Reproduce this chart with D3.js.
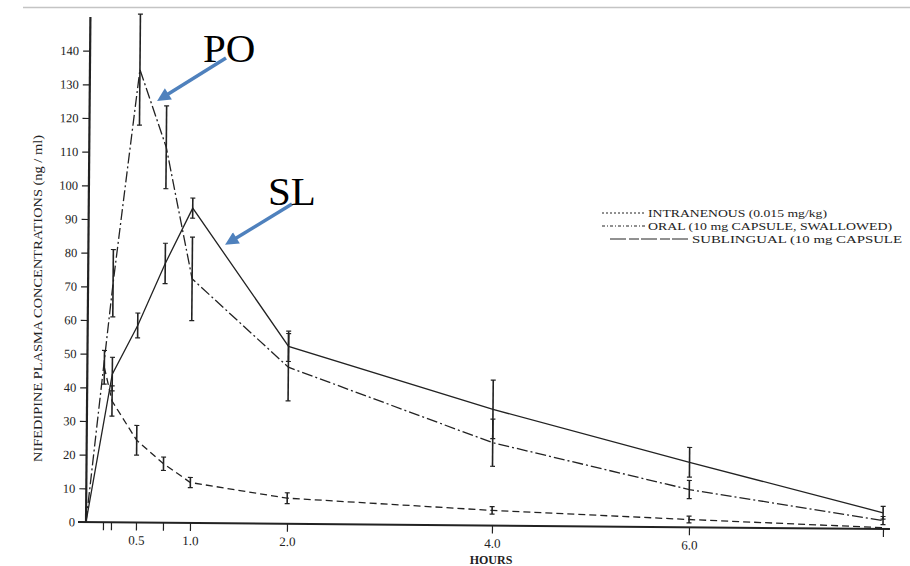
<!DOCTYPE html>
<html>
<head>
<meta charset="utf-8">
<script src="https://cdn.jsdelivr.net/npm/d3@7"></script>
<style>
  body { margin: 0; background: #fff; }
  svg { display: block; font-family: "Liberation Serif", "Times New Roman", serif; }
</style>
</head>
<body>
<svg id="chart" width="910" height="566"></svg>
<script>
// sampling times (hours)
const hours = [0, 0.25, 0.5, 0.75, 1, 2, 4, 6, 8];
const ivHours = [0.17, 0.25, 0.5, 0.75, 1, 2, 4, 6, 8];

// nifedipine plasma concentrations (ng/ml), mean and error bar half-height
const ivMean = [46, 36, 24.4, 17.5, 12, 7.6, 4.5, 2.3, 0.4];
const ivErr  = [5, 4.5, 4.4, 2, 1.5, 1.6, 1.1, 1, 0];
const poMean = [0, 71, 134.5, 111.5, 72.5, 46.5, 24.6, 11.2, 2.5];
const poErr  = [0, 10, 16.5, 12.3, 12.4, 10, 7, 2.7, 1.2];
const slMean = [0, 44, 58.5, 77, 93.5, 52.7, 34.5, 19.3, 4.8];
const slErr  = [0, 5, 3.7, 6, 3, 4.5, 8.7, 4.4, 1.9];

const yTicks = [0, 10, 20, 30, 40, 50, 60, 70, 80, 90, 100, 110, 120, 130, 140];
const xTicks = [0.17, 0.25, 0.5, 0.75, 1, 2, 4, 6, 8];
const xTickLabels = ["", "", "0.5", "", "1.0", "2.0", "4.0", "6.0", ""];

const legendLabels = [
  "INTRANENOUS (0.015 mg/kg)",
  "ORAL (10 mg CAPSULE, SWALLOWED)",
  "SUBLINGUAL (10 mg CAPSULE"
];
const arrowLabels = ["PO", "SL"];

const ink = "#222";
const arrowBlue = "#4f81bd";

const svg = d3.select("#chart");

// scanned figure: hand-drawn hour axis is slightly uneven
const x = d3.scaleLinear()
  .domain([0, 0.5, 1, 2, 4, 6, 8])
  .range([86, 136, 190, 287, 492, 689, 883]);
const y = d3.scaleLinear().domain([0, 150]).range([522, 17]);

// thin grey rule at the top of the slide
svg.append("line")
  .attr("x1", 23).attr("x2", 910).attr("y1", 7.5).attr("y2", 7.5)
  .attr("stroke", "#c4c4c4").attr("stroke-width", 1.5);

// the page is scanned a bit crooked
const g = svg.append("g").attr("transform", `rotate(0.5, ${x(0)}, ${y(0)})`);

// axes
const yAxis = d3.axisLeft(y).tickValues(yTicks).tickSize(7).tickPadding(4).tickSizeOuter(0);
const yg = g.append("g").attr("transform", `translate(${x(0)},0)`).call(yAxis);
yg.select(".domain").remove();
yg.selectAll(".tick line").attr("stroke", ink).attr("stroke-width", 1.2);
yg.selectAll(".tick text").attr("fill", ink).attr("font-size", 12.5)
  .attr("font-family", "Liberation Serif, serif");

const xAxis = d3.axisBottom(x).tickValues(xTicks).tickSize(8).tickPadding(5)
  .tickSizeOuter(0).tickFormat((d, i) => xTickLabels[i]);
const xg = g.append("g").attr("transform", `translate(0,${y(0)})`).call(xAxis);
xg.select(".domain").remove();
xg.selectAll(".tick line").attr("stroke", ink).attr("stroke-width", 1.2);
xg.selectAll(".tick text").attr("fill", ink).attr("font-size", 13)
  .attr("font-family", "Liberation Serif, serif");

g.append("line")
  .attr("x1", x(0)).attr("x2", x(0)).attr("y1", y(0) + 1).attr("y2", y(150))
  .attr("stroke", ink).attr("stroke-width", 2.2);
g.append("line")
  .attr("x1", x(0) - 8).attr("x2", x(8) + 7).attr("y1", y(0)).attr("y2", y(0))
  .attr("stroke", ink).attr("stroke-width", 2);

// series
const series = [
  { t: ivHours, v: ivMean, e: ivErr, dash: "7,4" },
  { t: hours, v: poMean, e: poErr, dash: "11,3,2,3" },
  { t: hours, v: slMean, e: slErr, dash: null }
];

const line = d3.line().x(d => x(d.t)).y(d => y(d.v));

series.forEach(s => {
  const pts = s.t.map((t, i) => ({ t: t, v: s.v[i], e: s.e[i] }));
  g.append("path")
    .datum(pts)
    .attr("d", line)
    .attr("fill", "none")
    .attr("stroke", ink)
    .attr("stroke-width", 1.3)
    .attr("stroke-dasharray", s.dash);

  const bars = g.append("g").selectAll("g")
    .data(pts.filter(d => d.e > 0))
    .join("g");
  bars.append("line")
    .attr("x1", d => x(d.t)).attr("x2", d => x(d.t))
    .attr("y1", d => y(d.v - d.e)).attr("y2", d => y(d.v + d.e))
    .attr("stroke", ink).attr("stroke-width", 1.6);
  bars.selectAll(".cap")
    .data(d => [d.v - d.e, d.v + d.e].map(v => ({ t: d.t, v: v })))
    .join("line")
    .attr("class", "cap")
    .attr("x1", d => x(d.t) - 2.5).attr("x2", d => x(d.t) + 2.5)
    .attr("y1", d => y(d.v)).attr("y2", d => y(d.v))
    .attr("stroke", ink).attr("stroke-width", 1.2);
});

// axis titles
svg.append("text")
  .attr("transform", "translate(42,298.5) rotate(-90)")
  .attr("text-anchor", "middle")
  .attr("font-size", 12.5)
  .attr("fill", ink)
  .attr("textLength", 327)
  .attr("lengthAdjust", "spacingAndGlyphs")
  .text("NIFEDIPINE PLASMA CONCENTRATIONS (ng / ml)");

svg.append("text")
  .attr("x", 491).attr("y", 564)
  .attr("text-anchor", "middle")
  .attr("font-size", 12)
  .attr("font-weight", "bold")
  .attr("fill", ink)
  .text("HOURS");

// legend
const legend = [
  { y: 213, x1: 602, x2: 646, tx: 648, w: 179, dash: "2,2" },
  { y: 226, x1: 602, x2: 646, tx: 648, w: 244, dash: "3,2,1,2" },
  { y: 239, x1: 610, x2: 690, tx: 692, w: 210, dash: "16,3,10,2" }
];
const lg = svg.append("g").selectAll("g").data(legend).join("g");
lg.append("line")
  .attr("x1", d => d.x1).attr("x2", d => d.x2)
  .attr("y1", d => d.y).attr("y2", d => d.y)
  .attr("stroke", ink).attr("stroke-width", 1)
  .attr("stroke-dasharray", d => d.dash);
lg.append("text")
  .attr("x", d => d.tx).attr("y", d => d.y + 4)
  .attr("font-size", 11)
  .attr("fill", ink)
  .attr("textLength", d => d.w)
  .attr("lengthAdjust", "spacingAndGlyphs")
  .text((d, i) => legendLabels[i]);

// PO / SL callouts
svg.append("defs").append("marker")
  .attr("id", "head")
  .attr("viewBox", "0 0 10 10")
  .attr("refX", 3).attr("refY", 5)
  .attr("markerWidth", 4.2).attr("markerHeight", 3.8)
  .attr("orient", "auto")
  .append("path").attr("d", "M0,0L10,5L0,10z").attr("fill", arrowBlue);

const callouts = [
  { tx: 203, ty: 62, x1: 226, y1: 58, x2: 165, y2: 96 },
  { tx: 268, ty: 205, x1: 292, y1: 204, x2: 233, y2: 240 }
];
svg.append("g").selectAll("line").data(callouts).join("line")
  .attr("x1", d => d.x1).attr("y1", d => d.y1)
  .attr("x2", d => d.x2).attr("y2", d => d.y2)
  .attr("stroke", arrowBlue).attr("stroke-width", 3.5)
  .attr("marker-end", "url(#head)");
svg.append("g").selectAll("text").data(callouts).join("text")
  .attr("x", d => d.tx).attr("y", d => d.ty)
  .attr("font-size", 41)
  .attr("fill", "#000")
  .text((d, i) => arrowLabels[i]);
</script>
</body>
</html>
